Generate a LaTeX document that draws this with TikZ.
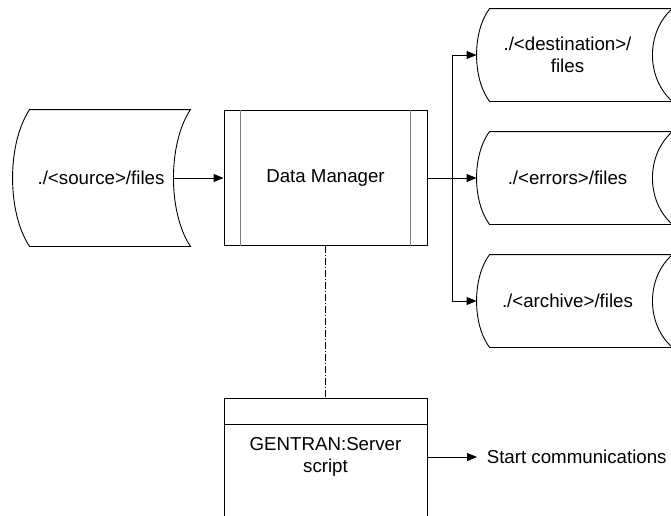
\documentclass[tikz,border=0pt]{standalone}
\usepackage{fontspec}
\setmainfont{Liberation Sans}
\usetikzlibrary{arrows.meta,calc}

% stored data outline round a node (left and right bulge depth)
\newcommand{\tapeline}[3]{%
  \draw ($(#1.north west)+(#2,0)$) -- ($(#1.north east)+(#3,0)$)
    .. controls ($(#1.north east)!0.25!(#1.south east)+(-#3/3,0)$)
    and ($(#1.north east)!0.75!(#1.south east)+(-#3/3,0)$)
    .. ($(#1.south east)+(#3,0)$)
    -- ($(#1.south west)+(#2,0)$)
    .. controls ($(#1.north west)!0.75!(#1.south west)+(-#2/3,0)$)
    and ($(#1.north west)!0.25!(#1.south west)+(-#2/3,0)$)
    .. cycle;}

\begin{document}
\begin{tikzpicture}[x=1pt,y=-1pt,line width=0.9pt,
  >={Triangle[length=10pt,width=8pt]},
  every node/.style={font=\fontsize{18.7}{21.5}\selectfont},
  store/.style={minimum height=#1, inner sep=0pt, align=center}]
\useasboundingbox (0,0) rectangle (671,515);

\node[store=136pt, minimum width=160pt] (src) at (93,178) {\hspace*{16pt}./<source>/files};
\node[draw, minimum width=203pt, minimum height=135pt] (dm) at (325.5,178) {Data Manager};
\node[store=92pt, minimum width=175pt] (dst) at (564.5,55) {\hspace*{6pt}./<destination>/\\\hspace*{6pt}files};
\node[store=92pt, minimum width=175pt] (err) at (564.5,178) {\hspace*{6pt}./<errors>/files};
\node[store=92pt, minimum width=175pt] (arc) at (564.5,301) {\hspace*{6pt}./<archive>/files};
\node[minimum width=203pt, minimum height=40pt, align=center] (gen) at (325.5,457) {GENTRAN:Server\\script};
\node[anchor=west] (start) at (483,457) {Start communications};
\coordinate (br) at (452,178);
\coordinate (gtop) at (325.5,398);

\tapeline{src}{17}{17}
\tapeline{dst}{13}{20}
\tapeline{err}{13}{20}
\tapeline{arc}{13}{20}

\draw[gray] ([xshift=17pt]dm.north west) -- ([xshift=17pt]dm.south west);
\draw[gray] ([xshift=-17pt]dm.north east) -- ([xshift=-17pt]dm.south east);

\draw (224,516) |- (427,398) -- (427,516);
\draw (224,424) -- (427,424);

\draw[->] (src.east) -- (dm.west);
\draw[->] (dm.east) -- (err.west);
\draw[->] (br) |- (dst.west);
\draw[->] (br) |- (arc.west);
\draw[dash pattern=on 7pt off 2pt on 1pt off 2pt] (dm.south) -- (gtop);
\draw[->, shorten >=6pt] (gen.east) -- (start.west);
\end{tikzpicture}
\end{document}
